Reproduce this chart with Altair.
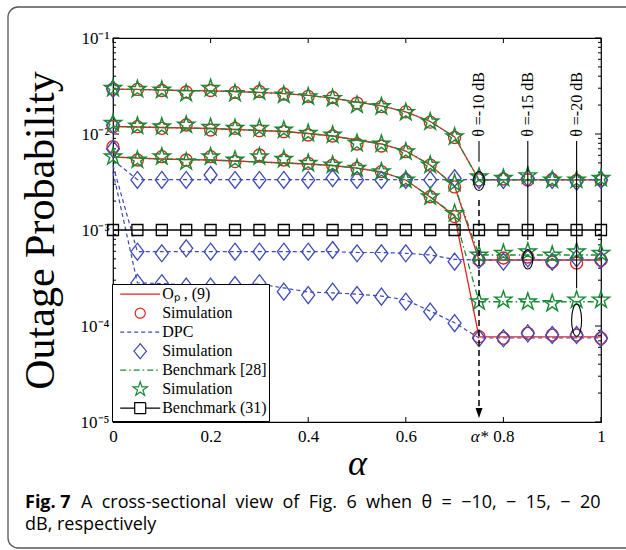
import altair as alt
import pandas as pd

SERIF = "Liberation Serif"
SANS = "Open Sans"
W, H = 488, 384

RED = "#e3231f"
BLUE = "#3d4ab8"
GREEN = "#168a33"
BLACK = "#000000"

# ---------------- data ----------------
alpha = [0.00, 0.05, 0.10, 0.15, 0.20, 0.25, 0.30, 0.35, 0.40, 0.45, 0.50,
         0.55, 0.60, 0.65, 0.70, 0.75, 0.80, 0.85, 0.90, 0.95, 1.00]
theta_names = ["-10 dB", "-15 dB", "-20 dB"]

# O_P, (9) analytical (red solid)
op_10 = [0.0294, 0.0291, 0.0287, 0.0284, 0.0281, 0.0277, 0.0271, 0.0264, 0.0252, 0.0237, 0.0215,
         0.0196, 0.0170, 0.0135, 0.0093, 0.00332, 0.00332, 0.00332, 0.00332, 0.00332, 0.00332]
op_15 = [0.01197, 0.01183, 0.01169, 0.01155, 0.01141, 0.01114, 0.01088, 0.01062, 0.01012, 0.00953, 0.00866,
         0.00787, 0.00665, 0.00475, 0.00287, 0.000487, 0.000487, 0.000487, 0.000487, 0.000487, 0.000487]
op_20 = [0.00576, 0.00562, 0.00549, 0.00542, 0.00536, 0.00523, 0.00511, 0.00499, 0.00487, 0.00470, 0.00442,
         0.00402, 0.00332, 0.00221, 0.00140, 7.7e-5, 7.7e-5, 7.7e-5, 7.7e-5, 7.7e-5, 7.7e-5]
# simulation (red circles)
op_sim_10 = [0.0294, 0.0291, 0.0284, 0.0274, 0.0284, 0.0271, 0.0277, 0.0261, 0.0246, 0.0240, 0.0210,
             0.0193, 0.0170, 0.0133, 0.0092, 0.00332, 0.00340, 0.00332, 0.00336, 0.00328, 0.00332]
op_sim_15 = [0.01191, 0.01191, 0.01147, 0.01241, 0.01101, 0.01147, 0.01082, 0.01057, 0.00976, 0.00953, 0.00787,
             0.00750, 0.00654, 0.00475, 0.00281, 0.000487, 0.000511, 0.000523, 0.000464, 0.000453, 0.000487]
op_sim_20 = [0.00737, 0.00536, 0.00580, 0.00536, 0.00580, 0.00515, 0.00604, 0.00536, 0.00495, 0.00475, 0.00439,
             0.00405, 0.00332, 0.00222, 0.00138, 7.74e-5, 7.45e-5, 8.39e-5, 8.06e-5, 8.06e-5, 7.45e-5]

# DPC (blue dashed)
dpc_10 = [0.00535, 0.00335, 0.00335, 0.00335, 0.00335, 0.00335, 0.00335, 0.00335, 0.00335, 0.00335, 0.00335,
          0.00335, 0.00335, 0.00335, 0.00335, 0.00335, 0.00335, 0.00335, 0.00335, 0.00335, 0.00335]
dpc_15 = [0.00470, 0.000594, 0.000594, 0.000594, 0.000594, 0.000594, 0.000594, 0.000594, 0.000594, 0.000594, 0.000583,
          0.000583, 0.000572, 0.000549, 0.000495, 0.000487, 0.000487, 0.000487, 0.000487, 0.000487, 0.000487]
dpc_20 = [0.00402, 0.000281, 0.000277, 0.000267, 0.000264, 0.000267, 0.000274, 0.000249, 0.000226, 0.000221, 0.000215,
          0.000205, 0.000187, 0.000143, 0.000108, 7.5e-5, 7.5e-5, 7.5e-5, 7.5e-5, 7.5e-5, 7.5e-5]
# simulation (blue diamonds)
dpc_sim_10 = [0.0294, 0.00332, 0.00332, 0.00332, 0.00374, 0.00332, 0.00332, 0.00332, 0.00332, 0.00346, 0.00332,
              0.00332, 0.00332, 0.00332, 0.00346, 0.00332, 0.00332, 0.00346, 0.00332, 0.00318, 0.00332]
dpc_sim_15 = [0.0124, 0.000594, 0.000572, 0.000645, 0.000594, 0.000594, 0.000594, 0.000594, 0.000594, 0.000619, 0.000572,
              0.000572, 0.000572, 0.000549, 0.000468, 0.000487, 0.000468, 0.000507, 0.000468, 0.000507, 0.000487]
dpc_sim_20 = [0.00698, 0.000281, 0.000279, 0.000257, 0.000257, 0.000267, 0.000279, 0.000228, 0.000210, 0.000228, 0.000210,
              0.000202, 0.000179, 0.000141, 0.000107, 7.45e-5, 7.45e-5, 8.39e-5, 8.06e-5, 8.06e-5, 7.45e-5]

# Benchmark [28] (green dash-dot)
b28_10 = [0.0294, 0.0291, 0.0287, 0.0284, 0.0281, 0.0277, 0.0271, 0.0264, 0.0252, 0.0237, 0.0215,
          0.0196, 0.0170, 0.0135, 0.0093, 0.00332, 0.00332, 0.00332, 0.00332, 0.00332, 0.00332]
b28_15 = [0.01197, 0.01183, 0.01169, 0.01155, 0.01141, 0.01114, 0.01088, 0.01062, 0.01012, 0.00953, 0.00866,
          0.00787, 0.00665, 0.00475, 0.00287, 0.000549, 0.000549, 0.000549, 0.000549, 0.000549, 0.000549]
b28_20 = [0.00576, 0.00562, 0.00549, 0.00542, 0.00536, 0.00523, 0.00511, 0.00499, 0.00487, 0.00470, 0.00442,
          0.00402, 0.00332, 0.00221, 0.00143, 0.000179, 0.000179, 0.000179, 0.000179, 0.000179, 0.000179]
# simulation (green stars)
b28_sim_10 = [0.0299, 0.0292, 0.0287, 0.0265, 0.0299, 0.0265, 0.0276, 0.0255, 0.0245, 0.0235, 0.0201,
              0.0193, 0.0168, 0.0134, 0.00937, 0.00359, 0.00346, 0.00368, 0.00332, 0.00332, 0.00346]
b28_sim_15 = [0.01292, 0.01212, 0.01191, 0.01241, 0.01174, 0.01147, 0.01147, 0.01101, 0.01017, 0.00976, 0.00800,
              0.00787, 0.00654, 0.00475, 0.00307, 0.000549, 0.000572, 0.000594, 0.000549, 0.000594, 0.000572]
b28_sim_20 = [0.00580, 0.00536, 0.00580, 0.00515, 0.00580, 0.00536, 0.00580, 0.00545, 0.00495, 0.00475, 0.00439,
              0.00405, 0.00332, 0.00222, 0.00149, 0.000179, 0.000187, 0.000179, 0.000172, 0.000187, 0.000187]

# Benchmark (31) (black, squares)
b31 = [0.001, 0.001, 0.001, 0.001, 0.001, 0.001, 0.001, 0.001, 0.001, 0.001, 0.001,
       0.001, 0.001, 0.001, 0.001, 0.001, 0.001, 0.001, 0.001, 0.001, 0.001]

# annotations
annot_alpha = [0.75, 0.85, 0.95]
annot_text = ["θ =-10 dB", "θ =-15 dB", "θ =-20 dB"]
annot_text_P = [0.0203, 0.0203, 0.0203]
annot_rule_top = [0.00846, 0.00846, 0.00846]
annot_rule_bottom = [0.00515, 0.000787, 0.000247]
ellipse_P = [0.00324, 0.000495, 0.0001147]
alpha_star = [0.75]
arrow_from = [0.00205]
arrow_to = [1.4e-5]
arrow_head = [1.24e-5]

x_tick_values = [0, 0.2, 0.4, 0.6, 0.75, 0.8, 1.0]
x_major = [0, 0.2, 0.4, 0.6, 0.8, 1.0]
y_tick_values = [1e-5, 1e-4, 1e-3, 1e-2, 1e-1]
y_tick_labels = ["10⁻⁵", "10⁻⁴", "10⁻³", "10⁻²", "10⁻¹"]
y_minor = [k * 10.0 ** e for e in (-5, -4, -3, -2) for k in range(2, 10)]

legend_labels = ["Oₚ , (9)", "Simulation", "DPC", "Simulation ", "Benchmark [28]", "Simulation  ", "Benchmark (31)"]
caption_bold = "Fig. 7"
caption_rest = "A cross-sectional view of Fig. 6 when θ = −10,  − 15,  − 20"
caption_line2 = "dB, respectively"

# ---------------- shapes ----------------
STAR = ("M0,-1.8L0.404,-0.556L1.712,-0.556L0.654,0.212L1.058,1.456L0,0.688"
        "L-1.058,1.456L-0.654,0.212L-1.712,-0.556L-0.404,-0.556Z")
LSTAR = ("M0,-1.5L0.337,-0.463L1.427,-0.463L0.545,0.177L0.882,1.214L0,0.573"
         "L-0.882,1.214L-0.545,0.177L-1.427,-0.463L-0.337,-0.463Z")
DIAMOND = "M0,-1.7L1.3,0L0,1.7L-1.3,0Z"
LDIAMOND = "M0,-1.5L1.25,0L0,1.5L-1.25,0Z"
LINE = "M-4,0H4"
SQLINE = "M-4,0H-1.1M-1.1,-1.1H1.1V1.1H-1.1ZM1.1,0H4"
ARROW = "M-0.7,-1L0.7,-1L0,1Z"


def ellipse_path(a, b):
    k = 0.5523
    f = lambda v: f"{v:.3f}"
    return (f"M0,{f(-b)}C{f(k*a)},{f(-b)} {f(a)},{f(-k*b)} {f(a)},0"
            f"C{f(a)},{f(k*b)} {f(k*a)},{f(b)} 0,{f(b)}"
            f"C{f(-k*a)},{f(b)} {f(-a)},{f(k*b)} {f(-a)},0"
            f"C{f(-a)},{f(-k*b)} {f(-k*a)},{f(-b)} 0,{f(-b)}Z")


ELLIPSES = [ellipse_path(1.07, 1.9), ellipse_path(1.0, 1.95), ellipse_path(1.0, 3.2)]
# invisible move-to's give every legend symbol the same height (uniform rows)
EXT = "M0,-1.6M0,1.6"


def long_df(series):
    rows = []
    for name, vals in zip(theta_names, series):
        for a, v in zip(alpha, vals):
            rows.append({"alpha": a, "theta": name, "P": v})
    return pd.DataFrame(rows)


df_op = long_df([op_10, op_15, op_20])
df_op_sim = long_df([op_sim_10, op_sim_15, op_sim_20])
df_dpc = long_df([dpc_10, dpc_15, dpc_20])
df_dpc_sim = long_df([dpc_sim_10, dpc_sim_15, dpc_sim_20])
df_b28 = long_df([b28_10, b28_15, b28_20])
df_b28_sim = long_df([b28_sim_10, b28_sim_15, b28_sim_20])
df_b31 = pd.DataFrame({"alpha": alpha, "P": b31})

# ---------------- scales / axes ----------------
xscale = alt.Scale(domain=[0, 1], nice=False, zero=False)
yscale = alt.Scale(type="log", domain=[1e-5, 1e-1], nice=False)

x_axis = alt.Axis(
    values=x_tick_values,
    labelExpr="datum.value == 0.75 ? 'α*' : format(datum.value, '~g')",
    labelFontStyle=alt.condition("datum.value == 0.75", alt.value("italic"), alt.value("normal")),
    labelFont=SERIF, labelFontSize=17, labelColor="black", labelPadding=6,
    labelFlush=False, labelOverlap=False,
    ticks=False, domain=False, grid=False,
    title="α", titleFont=SERIF, titleFontSize=36, titleFontStyle="italic",
    titleFontWeight="normal", titleColor="black", titleY=52, titleBaseline="alphabetic",
)
y_expr = "[" + ",".join(f"'{s}'" for s in y_tick_labels) + "][round(log(datum.value) / LN10) + 5]"
y_axis = alt.Axis(
    values=y_tick_values, labelExpr=y_expr,
    labelFont=SERIF, labelFontSize=17, labelColor="black", labelPadding=4,
    labelOverlap=False, labelFlush=False,
    ticks=False, domain=False, grid=False,
    title="Outage Probability", titleFont=SERIF, titleFontSize=42,
    titleFontWeight="normal", titleColor="black",
    titleX=-60, titleY=H / 2, titleAngle=270, titleAlign="center", titleBaseline="alphabetic",
)


def X(field="alpha"):
    return alt.X(f"{field}:Q", scale=xscale, axis=x_axis)


def Y(field="P"):
    return alt.Y(f"{field}:Q", scale=yscale, axis=y_axis)


layers = []

# outer rounded frame of the figure card
one = pd.DataFrame({"k": [0]})
layers.append(alt.Chart(one).mark_rect(fillOpacity=0, stroke="#555555", strokeWidth=1.3, cornerRadius=10).encode(
    x=alt.value(-105), x2=alt.value(W + 60), y=alt.value(-31), y2=alt.value(510)))

# ticks (inward)
df_xmaj = pd.DataFrame({"alpha": x_major})
df_ymaj = pd.DataFrame({"P": y_tick_values})
df_ymin = pd.DataFrame({"P": y_minor})
for yv, y2v in [(H, H - 5), (0, 5)]:
    layers.append(alt.Chart(df_xmaj).mark_rule(color="black", strokeWidth=1).encode(
        x=X(), y=alt.value(yv), y2=alt.value(y2v)))
for d, ln in [(df_ymaj, 6), (df_ymin, 3)]:
    layers.append(alt.Chart(d).mark_rule(color="black", strokeWidth=1).encode(
        y=Y(), x=alt.value(0), x2=alt.value(ln)))
    layers.append(alt.Chart(d).mark_rule(color="black", strokeWidth=1).encode(
        y=Y(), x=alt.value(W), x2=alt.value(W - ln)))

# O_P line + circles
layers.append(alt.Chart(df_op).mark_line(color=RED, strokeWidth=1.3).encode(x=X(), y=Y(), detail="theta:N"))
layers.append(alt.Chart(df_op_sim).mark_point(shape="circle", size=144, filled=False, color=RED,
                                               strokeWidth=1.3, opacity=1).encode(x=X(), y=Y()))
# DPC
layers.append(alt.Chart(df_dpc).mark_line(color=BLUE, strokeWidth=1.2, strokeDash=[4, 3]).encode(
    x=X(), y=Y(), detail="theta:N"))
layers.append(alt.Chart(df_dpc_sim).mark_point(shape=DIAMOND, size=100, filled=False, color=BLUE,
                                                strokeWidth=1.3, opacity=1).encode(x=X(), y=Y()))
# Benchmark [28]
layers.append(alt.Chart(df_b28).mark_line(color=GREEN, strokeWidth=1.3, strokeDash=[6, 3, 1.5, 3]).encode(
    x=X(), y=Y(), detail="theta:N"))
layers.append(alt.Chart(df_b28_sim).mark_point(shape=STAR, size=100, filled=False, color=GREEN,
                                                strokeWidth=1.4, opacity=1).encode(x=X(), y=Y()))
# Benchmark (31)
layers.append(alt.Chart(df_b31).mark_line(color=BLACK, strokeWidth=1.3).encode(x=X(), y=Y()))
layers.append(alt.Chart(df_b31).mark_point(shape="square", size=121, filled=False, color=BLACK,
                                            strokeWidth=1.3, opacity=1).encode(x=X(), y=Y()))

# annotations
df_ann = pd.DataFrame({"alpha": annot_alpha, "label": annot_text, "P": annot_text_P,
                       "Ptop": annot_rule_top, "Pbot": annot_rule_bottom, "Pell": ellipse_P})
layers.append(alt.Chart(df_ann).mark_rule(color="black", strokeWidth=1.1).encode(
    x=X(), y=Y("Ptop"), y2=alt.Y2("Pbot")))
layers.append(alt.Chart(df_ann).mark_text(angle=270, font=SERIF, fontSize=16, color="black",
                                          align="center", baseline="middle").encode(
    x=X(), y=Y(), text="label:N"))
for i, path in enumerate(ELLIPSES):
    layers.append(alt.Chart(df_ann.iloc[[i]]).mark_point(shape=path, size=100, filled=False, color="black",
                                                        strokeWidth=1.1, opacity=1).encode(x=X(), y=Y("Pell")))
df_arrow = pd.DataFrame({"alpha": alpha_star, "P": arrow_from, "P2": arrow_to, "Ph": arrow_head})
layers.append(alt.Chart(df_arrow).mark_rule(color="black", strokeWidth=1.5, strokeDash=[6, 4]).encode(
    x=X(), y=Y(), y2=alt.Y2("P2")))
layers.append(alt.Chart(df_arrow).mark_point(shape=ARROW, size=100, filled=True, color="black",
                                             opacity=1).encode(x=X(), y=Y("Ph")))

# legend (built by the library from the legend entry list)
legend_colors = [RED, RED, BLUE, BLUE, GREEN, GREEN, BLACK]
legend_shapes = [EXT + s for s in [LINE, ellipse_path(1.0, 1.0), LINE, LDIAMOND, LINE, LSTAR, SQLINE]]
legend_dashes = [[1, 0], [1, 0], [4, 3], [1, 0], [6, 3, 1.5, 3], [1, 0], [1, 0]]
leg = alt.Legend(orient="none", legendX=-1, legendY=246, title=None,
                 fillColor="white", strokeColor="black", padding=2.2, rowPadding=-3.2,
                 labelFont=SERIF, labelFontSize=16, labelColor="black", labelLimit=400,
                 symbolSize=100, symbolStrokeWidth=1.2, symbolOpacity=1,
                 symbolOffset=18, labelOffset=14)
df_leg = pd.DataFrame({"entry": legend_labels})
layers.append(alt.Chart(df_leg).transform_filter("false").mark_point(filled=False, opacity=1, strokeWidth=1.2).encode(
    color=alt.Color("entry:N", scale=alt.Scale(domain=legend_labels, range=legend_colors), legend=leg),
    shape=alt.Shape("entry:N", scale=alt.Scale(domain=legend_labels, range=legend_shapes), legend=leg),
    strokeDash=alt.StrokeDash("entry:N", scale=alt.Scale(domain=legend_labels, range=legend_dashes), legend=leg),
))

# caption (justified first line: widened word gaps)
NB = " \u00a0"
layers.append(alt.Chart(one).mark_text(align="left", baseline="alphabetic", font=SANS, fontSize=18,
                                       fontWeight="bold", color="black").encode(
    x=alt.value(-88), y=alt.value(470), text=alt.value(caption_bold)))
layers.append(alt.Chart(one).mark_text(align="left", baseline="alphabetic", font=SANS, fontSize=18,
                                       color="black").encode(
    x=alt.value(-32), y=alt.value(470), text=alt.value(caption_rest.replace("  ", " ").replace(" ", NB))))
layers.append(alt.Chart(one).mark_text(align="left", baseline="alphabetic", font=SANS, fontSize=18,
                                       color="black").encode(
    x=alt.value(-88), y=alt.value(492), text=alt.value(caption_line2)))

chart = alt.layer(*layers).properties(
    width=W, height=H, autosize="none", background="white",
    padding={"left": 113, "top": 38, "right": 25, "bottom": 128},
).configure_view(stroke="black", strokeWidth=1.2)

chart.save("out.html", embed_options={"renderer": "svg", "actions": False})
